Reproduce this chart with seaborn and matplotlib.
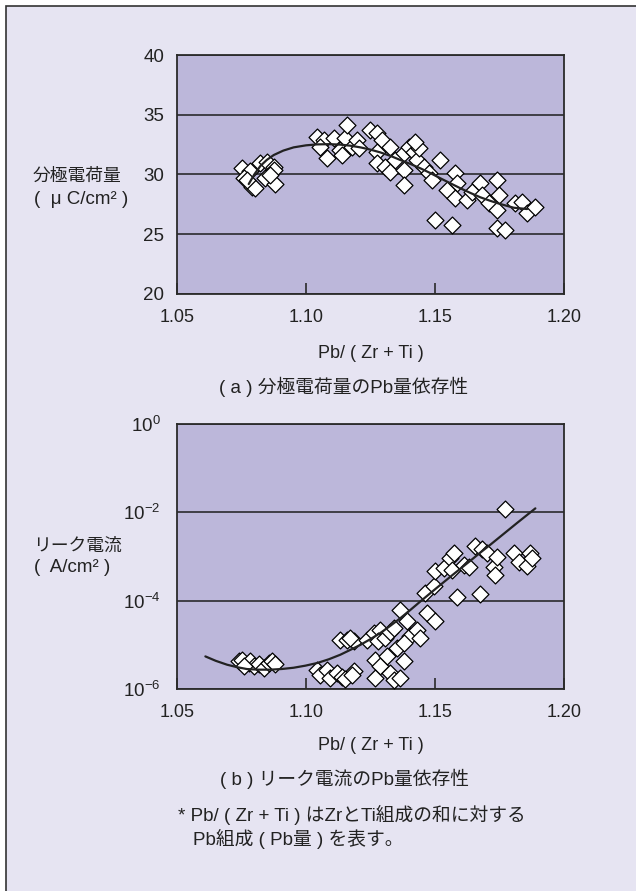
import numpy as np
import pandas as pd
import matplotlib
matplotlib.use("Agg")
import matplotlib.pyplot as plt
from matplotlib.patches import Rectangle
from matplotlib.ticker import FixedLocator, FormatStrFormatter, FuncFormatter, NullLocator
import seaborn as sns

# ---- (a) polarization charge vs Pb ratio ----
pb_a = [1.0752, 1.0784, 1.0758, 1.0791, 1.0804, 1.0823, 1.0849, 1.0875, 1.0875, 1.0842, 1.0881, 1.0771, 1.0862,
        1.1043, 1.1069, 1.1056, 1.1081, 1.1107, 1.1133, 1.1139, 1.1152, 1.1159, 1.1178,
        1.1198, 1.1204, 1.1249, 1.1275, 1.1295, 1.1275, 1.1275, 1.1307, 1.1327, 1.1327,
        1.1346, 1.1378, 1.1378, 1.1398, 1.1417, 1.1430, 1.1437, 1.1378, 1.1456, 1.1475,
        1.1488, 1.1521, 1.1547, 1.1579, 1.1585, 1.1579, 1.1624, 1.1643, 1.1676, 1.1682,
        1.1708, 1.1740, 1.1747, 1.1740, 1.1501, 1.1566, 1.1740, 1.1772, 1.1811, 1.1837,
        1.1857, 1.1889, 1.1424]
charge = [30.52, 30.32, 29.68, 28.98, 28.84, 30.93, 31.07, 30.65, 30.38, 29.68, 29.18, 29.54, 29.96,
          33.17, 32.89, 32.33, 31.35, 33.03, 32.05, 31.63, 33.03, 34.14, 32.33,
          32.89, 32.19, 33.72, 33.45, 32.89, 31.91, 30.93, 30.65, 32.33, 30.24,
          31.21, 31.77, 30.38, 32.33, 31.91, 31.21, 32.19, 29.12, 30.65, 30.10,
          29.54, 31.21, 28.70, 30.10, 29.26, 28.01, 27.87, 28.56, 29.26, 28.29,
          27.59, 29.54, 28.29, 27.03, 26.19, 25.77, 25.49, 25.36, 27.59, 27.73,
          26.75, 27.31, 32.75]
trend_a_x = [1.0778, 1.0800, 1.0823, 1.0848, 1.0875, 1.0912, 1.0952, 1.1000, 1.1043, 1.1090,
             1.1133, 1.1172, 1.1211, 1.1250, 1.1288, 1.1327, 1.1366, 1.1405, 1.1443, 1.1482,
             1.1521, 1.1560, 1.1599, 1.1638, 1.1676, 1.1715, 1.1753, 1.1805, 1.1857]
trend_a_y = [29.20, 30.02, 30.71, 31.22, 31.63, 32.00, 32.27, 32.44, 32.52, 32.54,
             32.50, 32.41, 32.27, 32.08, 31.85, 31.56, 31.21, 30.88, 30.52, 30.12,
             29.68, 29.26, 28.84, 28.45, 28.09, 27.79, 27.53, 27.22, 27.11]

# ---- (b) leakage current vs Pb ratio ----
pb_b = [1.0739, 1.0752, 1.0778, 1.0784, 1.0797, 1.0817, 1.0836, 1.0856, 1.0868, 1.0881, 1.0758,
        1.1043, 1.1056, 1.1081, 1.1094, 1.1120, 1.1139, 1.1152, 1.1185, 1.1178,
        1.1133, 1.1159, 1.1185, 1.1172, 1.1236, 1.1262, 1.1288, 1.1281, 1.1307, 1.1327,
        1.1340, 1.1366, 1.1392, 1.1404, 1.1430, 1.1443, 1.1469, 1.1501, 1.1353, 1.1378,
        1.1269, 1.1288, 1.1314, 1.1327, 1.1378, 1.1269, 1.1340, 1.1366,
        1.1462, 1.1495, 1.1501, 1.1533, 1.1559, 1.1572, 1.1566, 1.1585, 1.1611, 1.1630,
        1.1656, 1.1682, 1.1701, 1.1727, 1.1734, 1.1740, 1.1676, 1.1772, 1.1805, 1.1824,
        1.1857, 1.1869, 1.1876]
leak = [4.2e-6, 4.6e-6, 3.9e-6, 4.2e-6, 3.3e-6, 3.7e-6, 3.0e-6, 3.9e-6, 4.2e-6, 3.7e-6, 3.4e-6,
        2.7e-6, 2.1e-6, 2.7e-6, 1.8e-6, 2.3e-6, 1.9e-6, 1.7e-6, 2.6e-6, 2.1e-6,
        1.3e-5, 1.3e-5, 1.2e-5, 1.4e-5, 1.3e-5, 1.9e-5, 2.2e-5, 1.2e-5, 1.4e-5, 2.0e-5,
        2.4e-5, 6.2e-5, 3.4e-5, 1.6e-5, 2.2e-5, 1.4e-5, 5.2e-5, 3.4e-5, 8.5e-6, 1.1e-5,
        4.6e-6, 3.3e-6, 5.5e-6, 2.3e-6, 4.2e-6, 1.8e-6, 1.6e-6, 1.8e-6,
        1.5e-4, 2.1e-4, 4.6e-4, 5.4e-4, 9.1e-4, 1.2e-3, 5.0e-4, 1.2e-4, 6.4e-4, 5.9e-4,
        1.7e-3, 1.5e-3, 1.2e-3, 5.9e-4, 3.8e-4, 1.0e-3, 1.4e-4, 1.2e-2, 1.2e-3, 7.7e-4,
        6.1e-4, 1.2e-3, 9.1e-4]
trend_b_x = [1.0610, 1.0650, 1.0694, 1.0733, 1.0771, 1.0816, 1.0862, 1.0907, 1.0952, 1.0998,
             1.1043, 1.1088, 1.1133, 1.1172, 1.1211, 1.1250, 1.1288, 1.1327, 1.1366, 1.1405,
             1.1443, 1.1482, 1.1521, 1.1560, 1.1599, 1.1638, 1.1676, 1.1715, 1.1753, 1.1818, 1.1889]
trend_b_y = [5.47e-6, 4.35e-6, 3.55e-6, 3.12e-6, 2.83e-6, 2.74e-6, 2.74e-6, 2.84e-6, 3.03e-6, 3.38e-6,
             3.87e-6, 4.70e-6, 5.97e-6, 7.70e-6, 1.00e-5, 1.35e-5, 1.85e-5, 2.70e-5, 4.03e-5, 6.20e-5,
             9.57e-5, 1.48e-4, 2.28e-4, 3.50e-4, 5.33e-4, 8.10e-4, 1.23e-3, 1.86e-3, 2.82e-3, 5.74e-3, 1.23e-2]

x_ticks = [1.05, 1.10, 1.15, 1.20]
charge_ticks = [20, 25, 30, 35, 40]
leak_ticks = [1e-6, 1e-4, 1e-2, 1e0]

# ---- style ----
sns.set_style("white")
plt.rcParams["font.family"] = ["Liberation Sans", "Noto Sans CJK JP", "DejaVu Sans"]
plt.rcParams["mathtext.fontset"] = "custom"
plt.rcParams["mathtext.rm"] = "Liberation Sans"
plt.rcParams["mathtext.it"] = "Liberation Sans:italic"
plt.rcParams["mathtext.bf"] = "Liberation Sans:bold"
plt.rcParams["mathtext.default"] = "rm"

PAGE = "#e6e4f2"
PLOT = "#bcb7da"
INK = "#222222"
W, H = 636, 891

fig = plt.figure(figsize=(W / 100, H / 100), dpi=100, facecolor="white")
# framed page background (left and top edges visible)
fig.add_artist(Rectangle((6 / W, -0.05), 1.2, 1.05 - 6 / H, transform=fig.transFigure,
                         facecolor=PAGE, edgecolor="#333333", linewidth=1.2, zorder=-10))


def px_ax(left, top, right, bottom):
    return [left / W, 1 - bottom / H, (right - left) / W, (bottom - top) / H]


def style_axes(ax):
    ax.set_facecolor(PLOT)
    for s in ax.spines.values():
        s.set_color("#2a2a2a")
        s.set_linewidth(1.3)
        s.set_visible(True)
    ax.set_xlim(1.05, 1.20)
    ax.xaxis.set_major_locator(FixedLocator(x_ticks))
    ax.xaxis.set_major_formatter(FormatStrFormatter("%.2f"))
    ax.xaxis.set_minor_locator(NullLocator())
    ax.tick_params(axis="x", direction="in", length=8, width=1.2, color="#2a2a2a",
                   labelsize=13, pad=11, labelcolor="#222222", bottom=True)
    ax.tick_params(axis="y", length=0, labelsize=13.5, labelcolor="#222222", left=True)
    ax.grid(axis="y", color="#1e1e1e", linewidth=1.1)
    ax.grid(axis="x", visible=False)
    ax.set_axisbelow(True)
    ax.set_xlabel("")
    ax.set_ylabel("")


marker_kw = dict(marker="D", s=74, color="white", edgecolor="black", linewidth=0.9, zorder=3)

# panel (a)
ax1 = fig.add_axes(px_ax(177, 55, 564, 294))
df_a = pd.DataFrame({"pb": pb_a, "charge": charge})
sns.scatterplot(data=df_a, x="pb", y="charge", ax=ax1, **marker_kw)
sns.lineplot(x=trend_a_x, y=trend_a_y, ax=ax1, color=INK, linewidth=1.6, zorder=4, sort=False)
style_axes(ax1)
ax1.set_ylim(20, 40)
ax1.yaxis.set_major_locator(FixedLocator(charge_ticks))
ax1.yaxis.set_minor_locator(NullLocator())
ax1.tick_params(axis="y", pad=9)

# panel (b)
ax2 = fig.add_axes(px_ax(177, 424, 564, 689))
df_b = pd.DataFrame({"pb": pb_b, "leak": leak})
sns.scatterplot(data=df_b, x="pb", y="leak", ax=ax2, **marker_kw)
sns.lineplot(x=trend_b_x, y=trend_b_y, ax=ax2, color=INK, linewidth=1.6, zorder=4, sort=False)
ax2.set_yscale("log")
style_axes(ax2)
ax2.set_ylim(1e-6, 1e0)
ax2.yaxis.set_major_locator(FixedLocator(leak_ticks))
ax2.yaxis.set_minor_locator(NullLocator())
ax2.yaxis.set_major_formatter(FuncFormatter(lambda v, p: r"$10^{%d}$" % int(round(np.log10(v)))))
ax2.tick_params(axis="y", pad=12)


def ftext(x, y, s, ha="left", size=13.5):
    fig.text(x / W, 1 - y / H, s, ha=ha, va="center", fontsize=size, color="#222222")


# axis titles and captions
ftext(33, 176, "分極電荷量", size=12.8)
ftext(34, 199, "(  μ C/cm² )")
ftext(371, 354, "Pb/ ( Zr + Ti )", ha="center", size=13)
ftext(344, 387, "( a ) 分極電荷量のPb量依存性", ha="center")

ftext(33, 546, "リーク電流", size=12.8)
ftext(34, 568, "(  A/cm² )")
ftext(371, 745, "Pb/ ( Zr + Ti )", ha="center", size=13)
ftext(344, 779, "( b ) リーク電流のPb量依存性", ha="center")

ftext(178, 815, "* Pb/ ( Zr + Ti ) はZrとTi組成の和に対する")
ftext(193, 839, "Pb組成 ( Pb量 ) を表す。")

fig.savefig("out.png", dpi=100, facecolor="white")
